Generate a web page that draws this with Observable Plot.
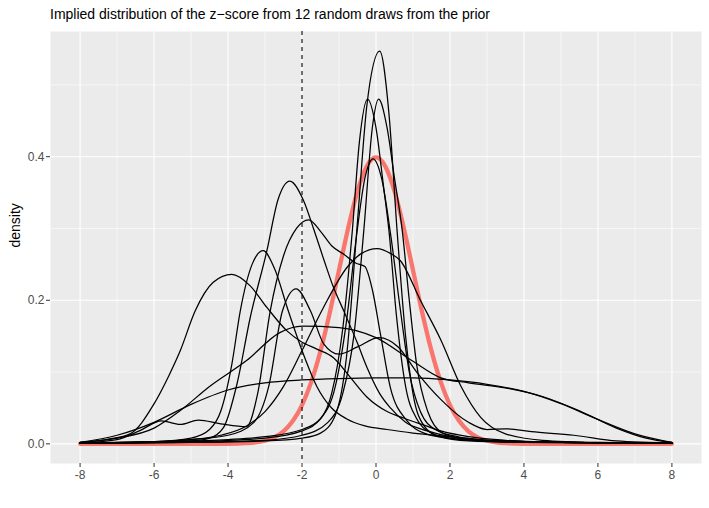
<!DOCTYPE html>
<html><head><meta charset="utf-8">
<script src="https://cdn.jsdelivr.net/npm/d3@7"></script>
<script src="https://cdn.jsdelivr.net/npm/@observablehq/plot@0.6"></script>
<style>
body{margin:0;background:#fff;font-family:"Liberation Sans",Arial,sans-serif;}
#title{height:28px;line-height:28px;font-size:14px;padding-left:50px;color:#000;white-space:nowrap}
</style></head><body>
<div id="chart"><div id="title">Implied distribution of the z−score from 12 random draws from the prior</div></div>
<script>
const xTicks = [-8, -6, -4, -2, 0, 2, 4, 6, 8];
const xMinor = [-7, -5, -3, -1, 1, 3, 5, 7];
const yTicks = [0, 0.2, 0.4];
const yMinor = [0.1, 0.3, 0.5];
const cutoff = -2;
const yLabel = "density";

const draw1X = [-8, -5, -3, -2, -1.5, -1.1, -0.8, -0.5, -0.25, 0.1, 0.35, 0.57, 0.8, 1.0, 1.3, 1.7, 2.5, 4, 8];
const draw1Y = [0.001, 0.002, 0.004, 0.008, 0.015, 0.04, 0.12, 0.31, 0.47, 0.547, 0.46, 0.297, 0.15, 0.07, 0.025, 0.01, 0.004, 0.002, 0.001];
const draw2X = [-8, -6, -4, -3, -2, -1.5, -1.2, -0.9, -0.64, -0.45, -0.23, 0, 0.2, 0.35, 0.55, 0.8, 1.1, 1.5, 2, 3, 5, 8];
const draw2Y = [0.001, 0.003, 0.006, 0.01, 0.02, 0.035, 0.07, 0.16, 0.297, 0.42, 0.48, 0.44, 0.36, 0.297, 0.18, 0.08, 0.035, 0.015, 0.008, 0.004, 0.002, 0.001];
const draw3X = [-8, -5, -3, -2, -1.3, -0.9, -0.6, -0.33, -0.1, 0.07, 0.3, 0.5, 0.71, 0.9, 1.1, 1.4, 1.8, 2.5, 4, 8];
const draw3Y = [0.001, 0.002, 0.005, 0.012, 0.03, 0.07, 0.15, 0.297, 0.44, 0.48, 0.44, 0.37, 0.297, 0.2, 0.11, 0.045, 0.015, 0.006, 0.002, 0.001];
const draw4X = [-8, -5, -3, -2, -1.5, -1.1, -0.8, -0.55, -0.3, -0.08, 0.15, 0.4, 0.65, 0.9, 1.2, 1.6, 2.2, 3, 5, 8];
const draw4Y = [0.001, 0.003, 0.008, 0.018, 0.035, 0.08, 0.17, 0.28, 0.37, 0.397, 0.37, 0.29, 0.19, 0.1, 0.045, 0.02, 0.01, 0.005, 0.002, 0.001];
const draw5X = [-8, -6, -5, -4.5, -4.12, -3.76, -3.4, -2.95, -2.65, -2.33, -1.96, -1.69, -1.4, -1.15, -0.87, -0.5, -0.24, 0.1, 0.39, 0.8, 1.39, 2, 3, 5, 8];
const draw5Y = [0.001, 0.002, 0.004, 0.008, 0.023, 0.083, 0.176, 0.269, 0.34, 0.366, 0.339, 0.30, 0.255, 0.218, 0.185, 0.14, 0.106, 0.07, 0.05, 0.03, 0.018, 0.01, 0.005, 0.002, 0.001];
const draw6X = [-8, -7, -6.4, -5.8, -5.3, -4.8, -4.2, -3.5, -3.2, -2.86, -2.5, -2.15, -1.82, -1.5, -1.2, -0.87, -0.55, -0.3, -0.1, 0.12, 0.39, 0.84, 1.3, 2, 3, 5, 8];
const draw6Y = [0.001, 0.006, 0.018, 0.032, 0.027, 0.033, 0.028, 0.024, 0.07, 0.185, 0.262, 0.3, 0.312, 0.296, 0.276, 0.264, 0.252, 0.247, 0.215, 0.153, 0.078, 0.032, 0.015, 0.008, 0.004, 0.002, 0.001];
const draw7X = [-8, -6, -5, -4.5, -4.2, -3.9, -3.67, -3.35, -3.05, -2.75, -2.37, -2.0, -1.6, -1.2, -0.8, -0.3, 0.3, 1, 2, 3, 5, 8];
const draw7Y = [0.001, 0.003, 0.008, 0.02, 0.045, 0.11, 0.185, 0.25, 0.269, 0.245, 0.185, 0.13, 0.08, 0.05, 0.035, 0.025, 0.02, 0.015, 0.01, 0.005, 0.002, 0.001];
const draw8X = [-8, -7.3, -6.65, -6.01, -5.6, -5.29, -4.89, -4.4, -3.9, -3.4, -2.95, -2.4, -2.04, -1.6, -1.15, -0.7, -0.24, 0.3, 0.8, 1.3, 1.75, 2.5, 3.5, 5, 8];
const draw8Y = [0.002, 0.006, 0.014, 0.055, 0.095, 0.13, 0.185, 0.225, 0.236, 0.22, 0.19, 0.157, 0.143, 0.132, 0.12, 0.093, 0.065, 0.045, 0.035, 0.026, 0.018, 0.01, 0.005, 0.002, 0.001];
const draw9X = [-8, -6, -5, -4.2, -3.5, -3, -2.5, -2, -1.42, -0.78, -0.4, 0.03, 0.4, 0.66, 1.2, 1.75, 2.3, 2.83, 3.5, 4.5, 6, 8];
const draw9Y = [0.001, 0.003, 0.006, 0.012, 0.025, 0.045, 0.08, 0.13, 0.19, 0.246, 0.265, 0.272, 0.265, 0.255, 0.2, 0.145, 0.08, 0.037, 0.014, 0.005, 0.002, 0.001];
const draw10X = [-8, -6, -5, -4, -3.3, -2.9, -2.53, -2.16, -1.77, -1.41, -1.0, -0.5, 0.08, 0.6, 1.1, 1.75, 2.5, 3.0, 3.5, 4.2, 5.35, 6.5, 8];
const draw10Y = [0.001, 0.003, 0.006, 0.012, 0.03, 0.08, 0.185, 0.216, 0.185, 0.139, 0.125, 0.135, 0.148, 0.135, 0.1, 0.062, 0.03, 0.02, 0.021, 0.017, 0.012, 0.004, 0.001];
const draw11X = [-8, -7, -6, -5.3, -4.5, -3.5, -2.6, -2, -1, 0, 1, 1.75, 2.5, 3.5, 4.5, 5.5, 6.5, 7.3, 8];
const draw11Y = [0.002, 0.008, 0.022, 0.046, 0.08, 0.116, 0.155, 0.164, 0.162, 0.148, 0.115, 0.092, 0.085, 0.078, 0.066, 0.046, 0.022, 0.008, 0.002];
const draw12X = [-8, -7, -6, -5, -4, -3, -2, -1, 0, 1, 2, 3, 4, 5, 6, 7, 8];
const draw12Y = [0.002, 0.012, 0.03, 0.055, 0.075, 0.085, 0.089, 0.091, 0.092, 0.092, 0.089, 0.083, 0.073, 0.056, 0.034, 0.014, 0.002];

const normalX = [-8, -5, -4, -3.5, -3, -2.75, -2.5, -2.25, -2, -1.75, -1.5, -1.25, -1, -0.75, -0.5, -0.25, 0, 0.25, 0.5, 0.75, 1, 1.25, 1.5, 1.75, 2, 2.25, 2.5, 2.75, 3, 3.5, 4, 5, 8];
const normalY = [0, 0, 0.0001, 0.0009, 0.0044, 0.0091, 0.0175, 0.0317, 0.054, 0.0863, 0.1295, 0.1826, 0.242, 0.3011, 0.352, 0.3867, 0.399, 0.3867, 0.352, 0.3011, 0.242, 0.1826, 0.1295, 0.0863, 0.054, 0.0317, 0.0175, 0.0091, 0.0044, 0.0009, 0.0001, 0, 0];

const draws = [[draw1X, draw1Y], [draw2X, draw2Y], [draw3X, draw3Y], [draw4X, draw4Y], [draw5X, draw5Y], [draw6X, draw6Y],
  [draw7X, draw7Y], [draw8X, draw8Y], [draw9X, draw9Y], [draw10X, draw10Y], [draw11X, draw11Y], [draw12X, draw12Y]];
const rows = draws.flatMap(([xs, ys], i) => xs.map((x, j) => ({draw: i + 1, x, y: ys[j]})));
const normalRows = normalX.map((x, j) => ({x, y: normalY[j]}));
const yMax = d3.max(rows, d => d.y);
const xr = [d3.min(xTicks), d3.max(xTicks)];
const xPad = 0.05 * (xr[1] - xr[0]);

const plot = Plot.plot({
  width: 709, height: 480,
  marginTop: 3, marginBottom: 45, marginLeft: 50, marginRight: 8,
  x: {domain: [xr[0] - xPad, xr[1] + xPad]},
  y: {domain: [-0.05 * yMax, 1.05 * yMax]},
  style: {fontFamily: '"Liberation Sans", Arial, sans-serif', fontSize: "12px", color: "#4D4D4D", background: "white"},
  marks: [
    Plot.frame({fill: "#EBEBEB", stroke: null}),
    Plot.ruleX(xMinor, {stroke: "white", strokeWidth: 0.55}),
    Plot.ruleY(yMinor, {stroke: "white", strokeWidth: 0.55}),
    Plot.ruleX(xTicks, {stroke: "white", strokeWidth: 1.1}),
    Plot.ruleY(yTicks, {stroke: "white", strokeWidth: 1.1}),
    Plot.line(normalRows, {x: "x", y: "y", stroke: "#F8766D", strokeWidth: 4.3, curve: "monotone-x"}),
    Plot.line(rows, {x: "x", y: "y", z: "draw", stroke: "black", strokeWidth: 1.25, curve: "monotone-x"}),
    Plot.ruleX([cutoff], {stroke: "black", strokeWidth: 1.1, strokeDasharray: "4,4"}),
    Plot.axisX({ticks: xTicks, tickSize: 4, tickPadding: 3, tickFormat: d => String(d), label: null, stroke: "#333333", fill: "#4D4D4D", fontSize: 12}),
    Plot.axisY({ticks: yTicks, tickSize: 4, tickPadding: 2, tickFormat: d3.format(".1f"), label: null, stroke: "#333333", fill: "#4D4D4D", fontSize: 12}),
    Plot.text([yLabel], {frameAnchor: "left", rotate: -90, dx: -35, fontSize: 14, fill: "black"})
  ]
});
document.getElementById("chart").appendChild(plot);
</script>
</body></html>
